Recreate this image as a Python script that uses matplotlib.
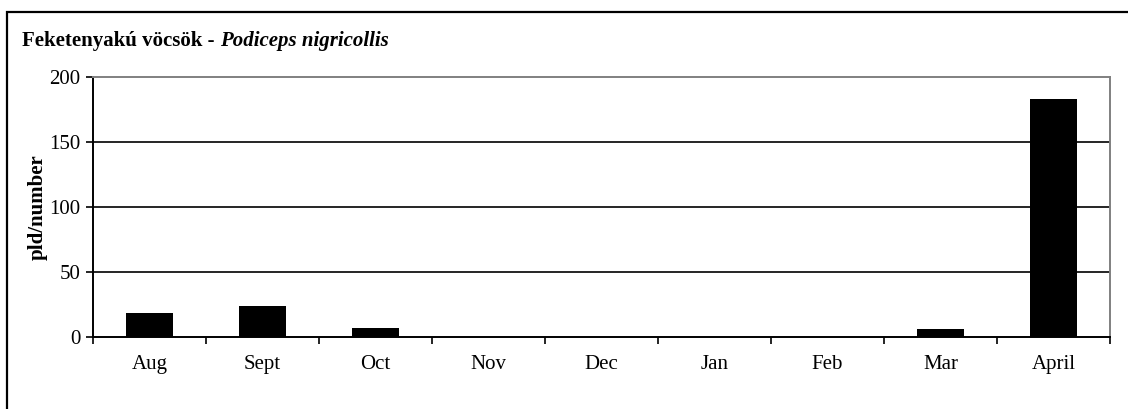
import matplotlib.pyplot as plt
import numpy as np
from matplotlib.patches import Rectangle

months = ["Aug", "Sept", "Oct", "Nov", "Dec", "Jan", "Feb", "Mar", "April"]
counts = [18, 24, 7, 0, 0, 0, 0, 6, 183]
y_ticks = [0, 50, 100, 150, 200]

plt.rcParams["font.family"] = ["Liberation Serif", "DejaVu Serif"]
FS = 15

fig = plt.figure(figsize=(11.28, 4.09), dpi=100)
ax = fig.add_axes([93 / 1128, 1 - 336.7 / 409, (1110 - 93) / 1128, (336.7 - 77.3) / 409])

x = np.arange(len(months))
ax.bar(x, counts, width=0.41, color="black", zorder=3)

ax.set_xlim(-0.5, len(months) - 0.5)
ax.set_ylim(0, 200)
ax.set_yticks(y_ticks)
ax.set_yticklabels([str(v) for v in y_ticks], fontsize=FS)
ax.set_xticks(x)
ax.set_xticklabels(months, fontsize=FS)
ax.set_xticks(np.arange(len(months) + 1) - 0.5, minor=True)
ax.tick_params(axis="x", which="major", length=0, pad=13)
ax.tick_params(axis="x", which="minor", length=5, width=1.2, direction="out")
ax.tick_params(axis="y", length=5, width=1.2, direction="out", pad=4)

for v in y_ticks[1:-1]:
    ax.axhline(v, color="black", linewidth=1.2, zorder=1)

for side in ("left", "bottom"):
    ax.spines[side].set_color("black")
    ax.spines[side].set_linewidth(1.4)
for side in ("top", "right"):
    ax.spines[side].set_color("#808080")
    ax.spines[side].set_linewidth(1.4)

ax.set_ylabel("pld/number", fontsize=FS, fontweight="bold", labelpad=1)

# title: bold part, then the italic latin name right after it
t1 = fig.text(22 / 1128, 1 - 41 / 409, "Feketenyakú vöcsök - ", fontsize=FS,
              fontweight="bold", va="center", ha="left")
renderer = fig.canvas.get_renderer()
bb = t1.get_window_extent(renderer=renderer)
fig.text(bb.x1 / fig.bbox.width, 1 - 41 / 409, "Podiceps nigricollis", fontsize=FS,
         fontweight="bold", style="italic", va="center", ha="left")

fig.patches.append(Rectangle((7 / 1128, -0.1), 1.1, 1.1 - 12 / 409,
                             transform=fig.transFigure, fill=False,
                             edgecolor="black", linewidth=1.6))

fig.savefig("out.png", dpi=100)
